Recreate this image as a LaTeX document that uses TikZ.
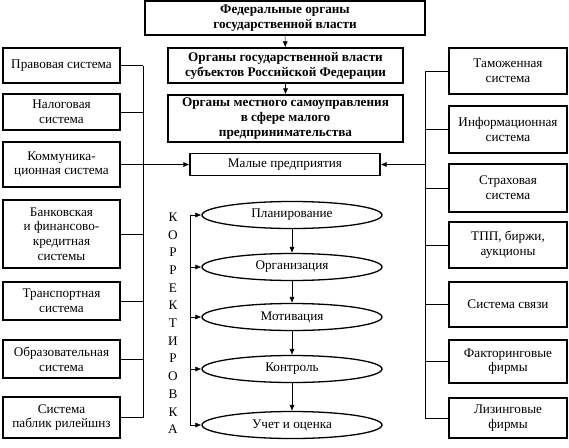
\documentclass[tikz,border=0pt]{standalone}
\usepackage{fontspec}
\setmainfont{Liberation Serif}
\usetikzlibrary{arrows.meta,shapes.geometric,calc}

\begin{document}
\begin{tikzpicture}
      [x = 1pt, y = -1pt,
      font = \fontsize{13.2}{14.8}\selectfont,
      box/.style= {
         draw,
         line width = 1.3pt,
         align = center,
         inner sep = 1pt
      },
      sysbox/.style= {
         box,
         minimum width = 117pt
      },
      headbox/.style= {
         box,
         font = \fontsize{13.2}{14.8}\selectfont\bfseries
      },
      stage/.style= {
         draw,
         ellipse,
         line width = 1.3pt,
         minimum width = 180pt,
         minimum height = 27pt,
         inner sep = 0pt
      },
      link/.style={line width = 0.5pt},
      arrow/.style={link, -{Latex[length = 6pt, width = 5pt]}}]
      \useasboundingbox (0, 0) rectangle (569, 447);

      % vertical chain of authorities
      \node[headbox, minimum width = 280pt, minimum height = 34pt]
         (fed) at (285, 18) {Федеральные органы\\государственной власти};
      \node[headbox, minimum width = 235pt, minimum height = 35pt]
         (subj) at (285.5, 65.5) {Органы государственной власти\\субъектов Российской Федерации};
      \node[headbox, minimum width = 235pt, minimum height = 47pt]
         (local) at (285.5, 118.5) {Органы местного самоуправления\\в сфере малого\\предпринимательства};
      \node[box, minimum width = 190pt, minimum height = 22pt]
         (small) at (285, 164.5) {Малые предприятия};

      \draw[arrow] (fed) -- (subj);
      \draw[arrow] (subj) -- (local);

      % left column
      \node[sysbox, minimum height = 35pt] (law) at (61.5, 65.5) {Правовая система};
      \node[sysbox, minimum height = 36pt] (tax) at (61.5, 112) {Налоговая\\система};
      \node[sysbox, minimum height = 45pt] (comm) at (61.5, 164.5) {Коммуника-\\ционная система};
      \node[sysbox, minimum height = 68pt] (bank) at (61.5, 234) {Банковская\\и финансово-\\кредитная\\системы};
      \node[sysbox, minimum height = 38pt] (trans) at (61.5, 301) {Транспортная\\система};
      \node[sysbox, minimum height = 38pt] (edu) at (61.5, 359) {Образовательная\\система};
      \node[sysbox, minimum height = 41pt] (pr) at (61.5, 417.5) {Система\\паблик рилейшнз};

      % right column
      \node[sysbox, minimum width = 118pt, minimum height = 46pt] (customs) at (508, 71) {Таможенная\\система};
      \node[sysbox, minimum width = 118pt, minimum height = 47pt] (info) at (508, 129.5) {Информационная\\система};
      \node[sysbox, minimum width = 118pt, minimum height = 48pt] (insur) at (508, 188) {Страховая\\система};
      \node[sysbox, minimum width = 118pt, minimum height = 46pt] (tpp) at (508, 245) {ТПП, биржи,\\аукционы};
      \node[sysbox, minimum width = 118pt, minimum height = 45pt] (post) at (508, 304.5) {Система связи};
      \node[sysbox, minimum width = 118pt, minimum height = 43pt] (factor) at (508, 361.5) {Факторинговые\\фирмы};
      \node[sysbox, minimum width = 118pt, minimum height = 40pt] (leasing) at (508, 418) {Лизинговые\\фирмы};

      \coordinate (lbus) at (143, 0);
      \coordinate (rbus) at (425, 0);

      \foreach \n in {law, tax, bank, trans, edu, pr}
         \draw[link] (\n.east) -- (\n.east -| lbus);
      \draw[link] (law.east -| lbus) -- (pr.east -| lbus);
      \draw[arrow] (comm.east) -- (small.west);

      \foreach \n in {customs, info, insur, tpp, post, factor, leasing}
         \draw[link] (\n.west) -- (\n.west -| rbus);
      \draw[link] (customs.west -| rbus) -- (leasing.west -| rbus);
      \draw[arrow] (small.east -| rbus) -- (small.east);

      % management cycle
      \node[stage] (plan) at (292, 215) {Планирование};
      \node[stage] (org) at (292, 267) {Организация};
      \node[stage] (motiv) at (292, 317) {Мотивация};
      \node[stage] (ctrl) at (292, 369) {Контроль};
      \node[stage] (eval) at (292, 425) {Учет и оценка};

      \draw[arrow] (plan) -- (org);
      \draw[arrow] (org) -- (motiv);
      \draw[arrow] (motiv) -- (ctrl);
      \draw[arrow] (ctrl) -- (eval);

      \coordinate (fbus) at (190, 0);
      \foreach \n in {plan, org, motiv, ctrl, eval}
         \draw[arrow] (\n.west -| fbus) -- (\n.west);
      \draw[link] (plan.west -| fbus) -- (eval.west -| fbus);

      \foreach \c [count = \i from 0] in {К,О,Р,Р,Е,К,Т,И,Р,О,В,К,А}
         \node (corr\i) at (173, 217 + 17.7*\i) {\c};

   \end{tikzpicture}
\end{document}
